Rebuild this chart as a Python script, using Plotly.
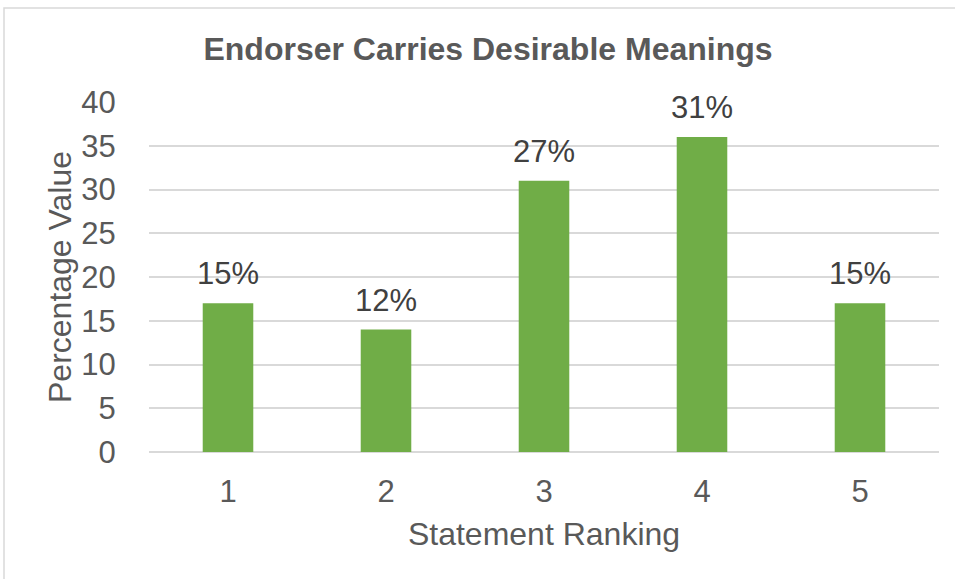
import plotly.graph_objects as go

# Survey results: "Endorser Carries Desirable Meanings"
rankings = ["1", "2", "3", "4", "5"]
responses = [17, 14, 31, 36, 17]
percent_labels = ["15%", "12%", "27%", "31%", "15%"]
y_ticks = [0, 5, 10, 15, 20, 25, 30, 35, 40]

FONT = "Liberation Sans, Arial, sans-serif"
GRID = "#d9d9d9"
TEXT = "#595959"

fig = go.Figure(
    go.Bar(
        x=rankings,
        y=responses,
        marker=dict(color="#70ad47", line=dict(width=0)),
        width=0.32,
        hoverinfo="x+y",
    )
)

# Percentage labels above each bar (category axis positions are indices)
for i, (v, lab) in enumerate(zip(responses, percent_labels)):
    fig.add_annotation(
        x=i, y=v, text=lab,
        xref="x", yref="y",
        showarrow=False,
        yanchor="bottom",
        yshift=10,
        font=dict(family=FONT, size=31, color="#404040"),
    )

fig.update_layout(
    width=955,
    height=579,
    margin=dict(l=149, r=16, t=102, b=127),
    paper_bgcolor="white",
    plot_bgcolor="white",
    showlegend=False,
    title=dict(
        text="<b>Endorser Carries Desirable Meanings</b>",
        x=488 / 955,
        xanchor="center",
        y=1 - 49 / 579,
        yanchor="middle",
        font=dict(family=FONT, size=32, color=TEXT),
    ),
    font=dict(family=FONT, color=TEXT),
)

fig.update_xaxes(
    type="category",
    showgrid=False,
    showline=False,
    ticks="outside",
    ticklen=12,
    tickcolor="rgba(0,0,0,0)",
    tickfont=dict(family=FONT, size=31, color=TEXT),
    title=dict(text="Statement Ranking", font=dict(family=FONT, size=32, color=TEXT), standoff=14),
)

fig.update_yaxes(
    range=[0, 40],
    tickvals=y_ticks,
    showgrid=True,
    gridcolor=GRID,
    gridwidth=1.5,
    zeroline=True,
    zerolinecolor=GRID,
    zerolinewidth=1.5,
    showline=False,
    ticks="outside",
    ticklen=26,
    tickcolor="rgba(0,0,0,0)",
    tickfont=dict(family=FONT, size=31, color=TEXT),
    title=dict(text="Percentage Value", font=dict(family=FONT, size=32, color=TEXT), standoff=0),
)

# Chart-area frame
fig.add_shape(
    type="rect",
    xref="paper", yref="paper",
    x0=(4 - 149) / 790, x1=(980 - 149) / 790,
    y0=(452 - 600) / 350, y1=(452 - 8) / 350,
    line=dict(color=GRID, width=1.5),
    fillcolor="rgba(0,0,0,0)",
    layer="below",
)

fig.write_html("out.html")
